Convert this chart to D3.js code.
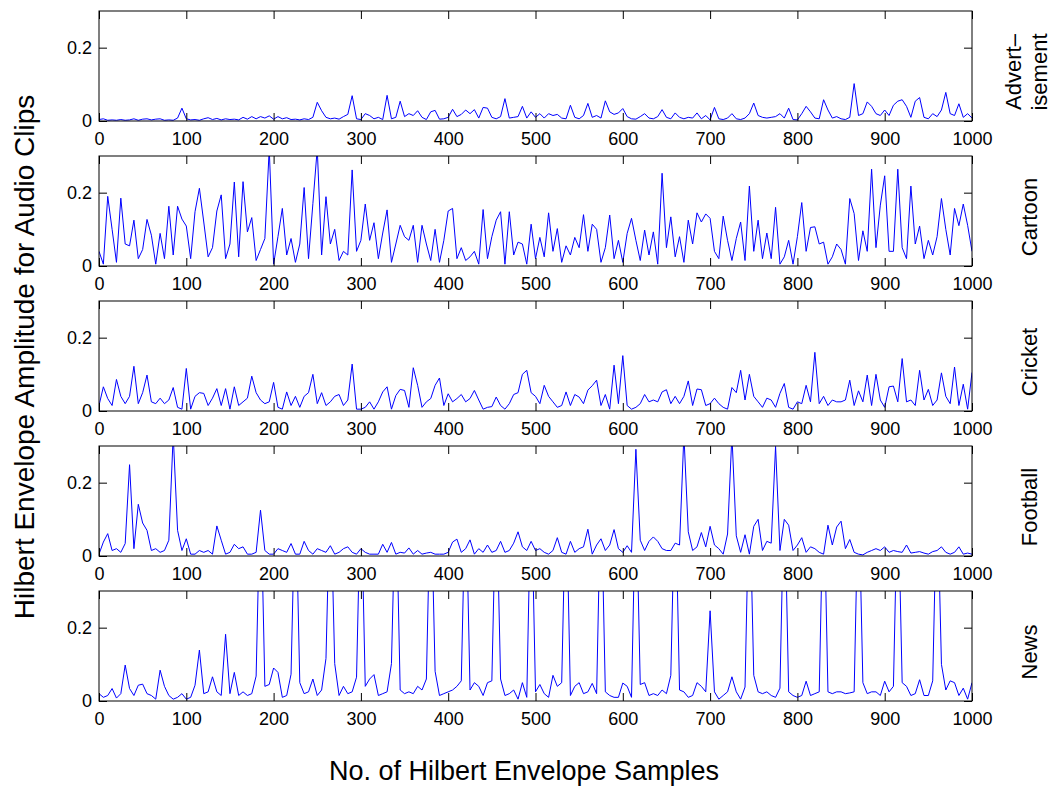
<!DOCTYPE html>
<html>
<head>
<meta charset="utf-8">
<script src="https://cdn.jsdelivr.net/npm/d3@7"></script>
<style>
  body { margin: 0; background: #fff; }
  text { font-family: "Liberation Sans", Arial, Helvetica, sans-serif; }
</style>
</head>
<body>
<div id="chart"></div>
<script>
// one value read every 5 envelope samples, amplitudes given x1000
const step = 5;
const clipNames = ["Advertisement", "Cartoon", "Cricket", "Football", "News"];
const clipLabels = [["Advert\u2013", "isement"], ["Cartoon"], ["Cricket"], ["Football"], ["News"]];
const xTicks = [0, 100, 200, 300, 400, 500, 600, 700, 800, 900, 1000];
const yTicks = [0, 0.2];

const advertisement = [
  4,6,2,3,2,4,2,3,6,2,5,6,3,5,6,2,3,2,8,35,
  6,3,4,2,6,9,4,7,3,6,4,5,3,10,5,12,6,12,8,14,
  5,12,6,9,4,5,3,6,4,10,51,28,10,6,8,5,12,18,69,6,
  4,20,15,6,10,4,70,6,10,54,12,20,15,28,10,4,25,29,5,6,
  10,32,12,18,30,20,31,8,37,35,10,6,12,61,8,10,12,40,8,25,
  10,20,8,20,15,18,8,6,43,10,6,15,48,10,15,8,55,25,18,22,
  34,12,6,5,12,20,8,6,12,31,10,6,22,10,6,10,8,22,6,15,
  3,37,6,4,8,20,6,4,8,20,49,15,10,8,10,12,20,8,35,4,
  3,20,40,25,8,6,58,30,8,12,6,4,10,102,15,20,52,40,20,15,
  30,15,43,54,58,40,10,54,64,10,6,20,12,30,78,20,15,47,10,20,
  8
];
const cartoon = [
  40,5,190,100,10,185,60,55,125,20,45,127,84,5,89,20,163,30,163,128,
  109,20,148,212,120,25,50,150,194,20,60,229,25,230,93,132,15,45,75,320,
  5,80,157,30,75,10,60,214,20,170,320,30,189,60,100,15,40,30,262,40,
  70,169,70,118,20,90,153,10,60,111,80,70,111,10,111,60,15,100,10,70,
  150,157,20,50,15,25,40,5,154,20,80,125,148,5,148,30,65,60,5,114,
  20,78,25,145,40,102,10,55,30,78,50,140,40,114,100,10,50,139,20,70,
  10,89,130,70,15,98,30,93,5,253,50,134,25,80,10,125,60,145,120,142,
  130,40,20,136,70,15,75,120,15,218,40,125,20,90,20,160,5,25,70,5,
  80,173,40,105,107,60,65,5,25,60,45,5,184,143,15,96,40,264,50,166,
  246,40,40,264,50,20,218,60,109,20,70,30,80,184,100,30,157,110,169,111,
  40
];
const cricket = [
  15,66,34,15,86,40,20,40,122,20,50,98,25,20,35,20,30,64,10,5,
  116,5,40,50,48,15,35,61,15,61,5,66,15,25,35,95,50,30,20,25,
  78,10,5,52,15,40,10,40,50,100,20,50,15,25,40,45,15,30,128,5,
  5,10,25,5,25,52,66,5,42,59,56,10,118,70,10,25,34,70,90,15,
  47,25,34,45,25,34,56,30,5,10,12,38,15,5,20,45,50,100,111,50,
  40,20,70,40,25,10,15,52,15,45,38,20,57,69,84,15,45,5,125,20,
  151,15,5,10,20,45,25,30,25,52,58,20,40,20,40,82,15,60,58,15,
  20,35,20,10,5,64,50,111,30,100,40,25,10,35,30,10,48,75,10,5,
  25,20,70,25,160,20,40,15,30,25,25,30,84,15,55,25,98,15,100,30,
  10,66,68,25,143,25,30,15,111,30,59,15,30,104,40,20,120,15,73,5,
  105
];
const football = [
  5,38,61,15,20,10,34,249,20,141,90,70,15,20,10,15,43,330,70,15,
  47,5,5,15,10,15,5,82,43,5,10,32,20,25,5,5,10,125,15,5,
  5,20,15,10,34,5,5,40,15,5,20,15,10,28,5,10,20,25,10,5,
  20,10,5,5,5,32,10,37,5,10,8,22,5,15,5,8,10,5,5,5,
  10,38,46,10,20,44,5,20,10,30,10,15,40,10,15,35,66,25,15,40,
  15,20,10,5,15,50,10,5,40,10,20,25,73,5,30,47,15,30,72,20,
  10,28,10,291,43,15,40,52,40,20,15,15,35,30,330,66,15,25,64,25,
  81,30,20,5,60,330,55,10,58,5,81,100,15,40,35,299,15,100,84,15,
  30,50,10,25,20,10,5,84,30,79,95,20,45,10,5,3,10,15,20,15,
  25,10,15,12,10,30,8,10,12,8,5,12,15,25,10,5,10,25,5,8,
  5
];
const news = [
  20,10,15,34,8,20,98,34,15,43,46,20,15,5,84,40,15,5,10,20,
  5,10,43,139,20,25,66,25,15,182,20,78,15,25,15,20,68,600,40,45,
  90,78,10,15,73,600,50,20,25,60,15,30,116,600,102,15,40,20,25,65,
  600,40,60,72,15,20,25,102,600,30,20,25,20,40,30,60,600,81,15,20,
  25,30,40,55,600,30,50,40,15,50,55,600,60,15,20,30,5,50,10,600,
  25,45,20,10,70,40,50,600,15,40,50,20,25,48,20,600,25,15,10,10,
  49,40,10,600,45,50,15,20,15,30,20,70,600,30,25,10,15,50,40,25,
  246,25,5,15,25,66,25,5,38,600,70,25,20,25,15,10,35,600,25,15,
  10,15,54,15,20,25,600,25,20,25,25,20,22,25,600,50,20,25,25,15,
  54,25,40,600,50,40,15,20,58,15,15,55,600,100,30,55,50,15,35,5,
  50
];

const series = [advertisement, cartoon, cricket, football, news].map(a => a.map(v => v / 1000));

const W = 1055, H = 791;
const left = 99, right = 972;
const panelH = 110, panelGap = 145, firstTop = 11;

const svg = d3.select("#chart").append("svg")
  .attr("width", W).attr("height", H);

const x = d3.scaleLinear().domain([0, 1000]).range([left, right]);

series.forEach((vals, p) => {
  const top = firstTop + p * panelGap;
  const y = d3.scaleLinear().domain([0, 0.3]).range([top + panelH, top]);
  const g = svg.append("g");

  svg.append("clipPath").attr("id", "clip" + p)
    .append("rect")
    .attr("x", left).attr("y", top)
    .attr("width", right - left).attr("height", panelH);

  const line = d3.line()
    .x((d, i) => x(i * step))
    .y(d => y(d));

  g.append("path")
    .datum(vals)
    .attr("clip-path", "url(#clip" + p + ")")
    .attr("fill", "none")
    .attr("stroke", "#0000ff")
    .attr("stroke-width", 1)
    .attr("stroke-linejoin", "round")
    .attr("d", line);

  // inward ticks on all four sides, MATLAB style
  g.append("g").attr("transform", `translate(0,${top + panelH})`)
    .call(d3.axisBottom(x).tickValues(xTicks).tickSize(-8).tickSizeOuter(0).tickPadding(11).tickFormat(d3.format("d")));
  g.append("g").attr("transform", `translate(0,${top})`)
    .call(d3.axisTop(x).tickValues(xTicks).tickSize(-8).tickSizeOuter(0).tickFormat(""));
  g.append("g").attr("transform", `translate(${left},0)`)
    .call(d3.axisLeft(y).tickValues(yTicks).tickSize(-8).tickSizeOuter(0).tickPadding(7).tickFormat(d3.format("~g")));
  g.append("g").attr("transform", `translate(${right},0)`)
    .call(d3.axisRight(y).tickValues(yTicks).tickSize(-8).tickSizeOuter(0).tickFormat(""));

  g.selectAll(".domain").remove();
  g.selectAll(".tick line").attr("stroke", "#000");
  g.selectAll(".tick text").attr("fill", "#000").style("font-size", "18px");

  g.append("rect")
    .attr("x", left).attr("y", top)
    .attr("width", right - left).attr("height", panelH)
    .attr("fill", "none").attr("stroke", "#000").attr("stroke-width", 1);

  // clip name on the right, rotated
  const lines = clipLabels[p];
  const lab = g.append("text")
    .attr("transform", `translate(${lines.length > 1 ? 1021 : 1037},${top + panelH / 2 + 6}) rotate(-90)`)
    .attr("text-anchor", "middle")
    .style("font-size", "22px");
  lines.forEach((t, k) => {
    lab.append("tspan").attr("x", 0).attr("dy", k === 0 ? 0 : "1.2em").text(t);
  });
});

svg.append("text")
  .attr("transform", `translate(34,357) rotate(-90)`)
  .attr("text-anchor", "middle")
  .style("font-size", "28px")
  .text("Hilbert Envelope Amplitude for Audio Clips");

svg.append("text")
  .attr("x", 524).attr("y", 780)
  .attr("text-anchor", "middle")
  .style("font-size", "27px")
  .text("No. of Hilbert Envelope Samples");
</script>
</body>
</html>
